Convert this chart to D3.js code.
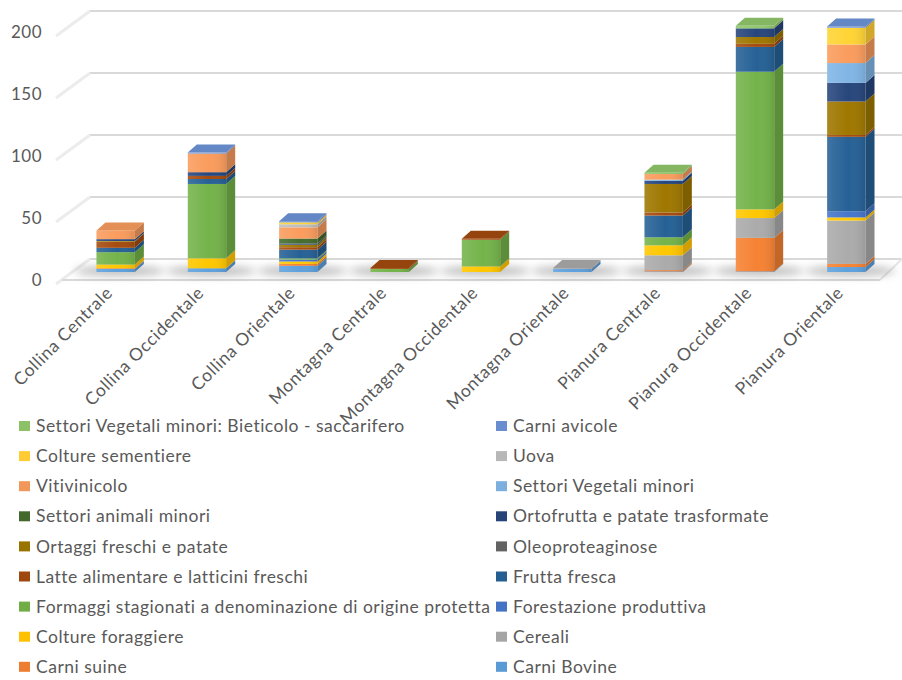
<!DOCTYPE html>
<html>
<head>
<meta charset="utf-8">
<script src="https://cdnjs.cloudflare.com/ajax/libs/d3/7.8.5/d3.min.js"></script>
<style>
body { margin: 0; background: #fff; }
text { font-family: Lato, 'Open Sans', sans-serif; fill: #595959; }
</style>
</head>
<body>
<div id="chart"></div>
<script>
// categories (x axis)
var categories = ['Collina Centrale', 'Collina Occidentale', 'Collina Orientale',
    'Montagna Centrale', 'Montagna Occidentale', 'Montagna Orientale',
    'Pianura Centrale', 'Pianura Occidentale', 'Pianura Orientale']

// series, in stacking order (bottom first)
var seriesNames = ['Carni Bovine', 'Carni suine', 'Cereali', 'Colture foraggiere',
    'Forestazione produttiva', 'Formaggi stagionati a denominazione di origine protetta',
    'Frutta fresca', 'Latte alimentare e latticini freschi', 'Oleoproteaginose',
    'Ortaggi freschi e patate', 'Ortofrutta e patate trasformate', 'Settori animali minori',
    'Settori Vegetali minori', 'Vitivinicolo', 'Uova', 'Colture sementiere', 'Carni avicole',
    'Settori Vegetali minori: Bieticolo - saccarifero']

var seriesColors = ['#5B9BD5', '#ED7D31', '#A5A5A5', '#FFC000', '#4472C4', '#70AD47',
    '#255E91', '#9E480E', '#636363', '#997300', '#264478', '#43682B',
    '#7CAFDD', '#F1975A', '#B7B7B7', '#FFCD33', '#698ED0', '#8CC168']

// values per series, one per category
var carniBovine     = [2.5, 3,   5,   0,   0,   2.5, 0.5,  0.5, 4]
var carniSuine      = [0.5, 0,   1.5, 0,   0,   0,   1,    27,  2.5]
var cereali         = [0,   0,   0,   0,   0,   0.8, 12,   16,  35]
var coltForaggiere  = [3,   8,   2,   0,   4.5, 0,   8,    7,   2.5]
var forestazione    = [0,   0,   1.5, 0,   0,   0,   0,    0,   5]
var formaggiDop     = [10,  60,  1,   2.5, 21.5, 0,  6.5,  111, 0]
var fruttaFresca    = [3.5, 4,   7,   0,   0,   0,   17.5, 20,  60]
var latte           = [5,   2.5, 2,   0.8, 0.8, 0,   2.5,  2.5, 1.5]
var oleoproteag     = [0,   0,   0,   0,   0,   0,   0,    0,   0]
var ortaggi         = [0.5, 0,   2,   0,   0,   0,   23,   5.5, 27]
var ortofrutta      = [1.5, 3,   1,   0,   0,   0,   2.5,  7,   15]
var settAnimali     = [0,   0,   4,   0,   0,   0,   0,    0,   0]
var settVegetali    = [0,   0,   0,   0,   0,   0,   1,    0,   16]
var vitivinicolo    = [7,   15,  9,   0,   0,   0,   4.5,  0,   15]
var uova            = [0,   0,   2.5, 0,   0,   0,   0,    0,   0]
var coltSementiere  = [0,   0,   1.5, 0,   0,   0,   0,    0,   13.5]
var carniAvicole    = [0,   0.8, 1,   0,   0,   0,   0,    0,   1]
var bieticolo       = [0,   0,   0,   0,   0,   0,   1,    2,   0]

var seriesValues = [carniBovine, carniSuine, cereali, coltForaggiere, forestazione,
    formaggiDop, fruttaFresca, latte, oleoproteag, ortaggi, ortofrutta, settAnimali,
    settVegetali, vitivinicolo, uova, coltSementiere, carniAvicole, bieticolo]

var yTicks = [0, 50, 100, 150, 200]

var width = 902,
    height = 680

// 3d offsets
var barDx = 9, barDy = -8       // depth of the columns
var barLift = 8                 // column front sits behind the floor front edge
var wallDx = 28, wallDy = -21   // floor front edge -> back wall

var svg = d3.select('#chart')
    .append('svg')
    .attr('width', width)
    .attr('height', height)

var defs = svg.append('defs')
defs.append('filter').attr('id', 'blur')
    .attr('x', '-50%').attr('y', '-200%').attr('width', '200%').attr('height', '500%')
    .append('feGaussianBlur').attr('stdDeviation', 4)
var grad = defs.append('linearGradient').attr('id', 'shade')
grad.append('stop').attr('offset', '0%').attr('stop-color', '#fff').attr('stop-opacity', 0.12)
grad.append('stop').attr('offset', '55%').attr('stop-color', '#fff').attr('stop-opacity', 0)
grad.append('stop').attr('offset', '100%').attr('stop-color', '#000').attr('stop-opacity', 0.1)

// scales
var xscale = d3.scaleBand()
    .domain(categories)
    .range([70, 892])
    .paddingInner(0.58)
    .paddingOuter(0.29)

var yscale = d3.scaleLinear()
    .domain([0, 200])
    .range([280, 32])

var bw = xscale.bandwidth()
var wallLeft = 62, wallRight = 880

// walls: back gridlines + side wall diagonals
var grid = svg.append('g')
grid.selectAll('line.back')
    .data(yTicks)
    .enter()
    .append('line')
    .attr('x1', wallLeft + wallDx)
    .attr('x2', width)
    .attr('y1', d => yscale(d) + wallDy)
    .attr('y2', d => yscale(d) + wallDy)
    .attr('stroke', '#d9d9d9')
    .attr('stroke-width', 2)
grid.selectAll('line.side')
    .data(yTicks)
    .enter()
    .append('line')
    .attr('x1', wallLeft - 6)
    .attr('y1', d => yscale(d) + 4)
    .attr('x2', wallLeft + wallDx)
    .attr('y2', d => yscale(d) + wallDy)
    .attr('stroke', '#ececec')
    .attr('stroke-width', 3)
// floor
grid.append('line')
    .attr('x1', wallLeft).attr('x2', wallRight)
    .attr('y1', yscale(0)).attr('y2', yscale(0))
    .attr('stroke', '#d9d9d9').attr('stroke-width', 2)
grid.append('line')
    .attr('x1', wallRight).attr('x2', width)
    .attr('y1', yscale(0)).attr('y2', yscale(0) + wallDy)
    .attr('stroke', '#e6e6e6').attr('stroke-width', 2)

// y axis labels
svg.append('g')
    .selectAll('text')
    .data(yTicks)
    .enter()
    .append('text')
    .attr('x', 42)
    .attr('y', d => yscale(d))
    .attr('dy', '0.35em')
    .attr('text-anchor', 'end')
    .style('font-size', '17px')
    .style('letter-spacing', '0.5px')
    .text(d => d)

// stacked data
var rows = categories.map((c, i) => {
    var row = { category: c }
    seriesNames.forEach((s, j) => { row[s] = seriesValues[j][i] })
    return row
})
var stacked = d3.stack().keys(seriesNames)(rows)

// shadows under the columns
svg.append('g')
    .selectAll('ellipse')
    .data(categories)
    .enter()
    .append('ellipse')
    .attr('cx', d => xscale(d) + bw / 2 + 4)
    .attr('cy', yscale(0) - barLift - 1)
    .attr('rx', bw / 2 + 26)
    .attr('ry', 5)
    .attr('fill', '#6b6b6b')
    .attr('opacity', 0.45)
    .attr('filter', 'url(#blur)')

// columns
var bars = svg.append('g')
categories.forEach((c, i) => {
    var g = bars.append('g')
    var x = xscale(c)
    var top = null
    stacked.forEach((layer, j) => {
        var d = layer[i]
        if (d[1] - d[0] <= 0) return
        var y0 = yscale(d[0]) - barLift
        var y1 = yscale(d[1]) - barLift
        var col = d3.color(seriesColors[j])
        g.append('rect')
            .attr('x', x).attr('y', y1)
            .attr('width', bw).attr('height', y0 - y1)
            .attr('fill', col.brighter(0.1))
        g.append('rect')
            .attr('x', x).attr('y', y1)
            .attr('width', bw).attr('height', y0 - y1)
            .attr('fill', 'url(#shade)')
        g.append('polygon')
            .attr('points', [[x + bw, y0], [x + bw + barDx, y0 + barDy],
                [x + bw + barDx, y1 + barDy], [x + bw, y1]].join(' '))
            .attr('fill', col.darker(0.55))
        top = { y: y1, color: col }
    })
    if (top) {
        g.append('polygon')
            .attr('points', [[x, top.y], [x + barDx, top.y + barDy],
                [x + bw + barDx, top.y + barDy], [x + bw, top.y]].join(' '))
            .attr('fill', top.color.darker(0.15))
    }
})

// x axis labels
svg.append('g')
    .selectAll('text')
    .data(categories)
    .enter()
    .append('text')
    .attr('text-anchor', 'end')
    .attr('transform', d => 'translate(' + (xscale(d) + bw / 2 - 2) + ',294) rotate(-45)')
    .style('font-size', '17.5px')
    .style('letter-spacing', '0.6px')
    .text(d => d)

// legend: two columns, series listed in reverse order
var legendItems = seriesNames.map((s, j) => ({ name: s, color: seriesColors[j] })).reverse()
var legend = svg.append('g')
    .selectAll('g')
    .data(legendItems)
    .enter()
    .append('g')
    .attr('transform', (d, k) => 'translate(' + (k % 2 ? 496 : 19) + ',' + (426 + Math.floor(k / 2) * 30.1) + ')')
legend.append('rect')
    .attr('x', 0).attr('y', -5)
    .attr('width', 11).attr('height', 10)
    .attr('fill', d => d.color)
legend.append('text')
    .attr('x', 17)
    .attr('dy', '0.35em')
    .style('font-size', '17.5px')
    .style('letter-spacing', '0.5px')
    .text(d => d.name)
</script>
</body>
</html>
